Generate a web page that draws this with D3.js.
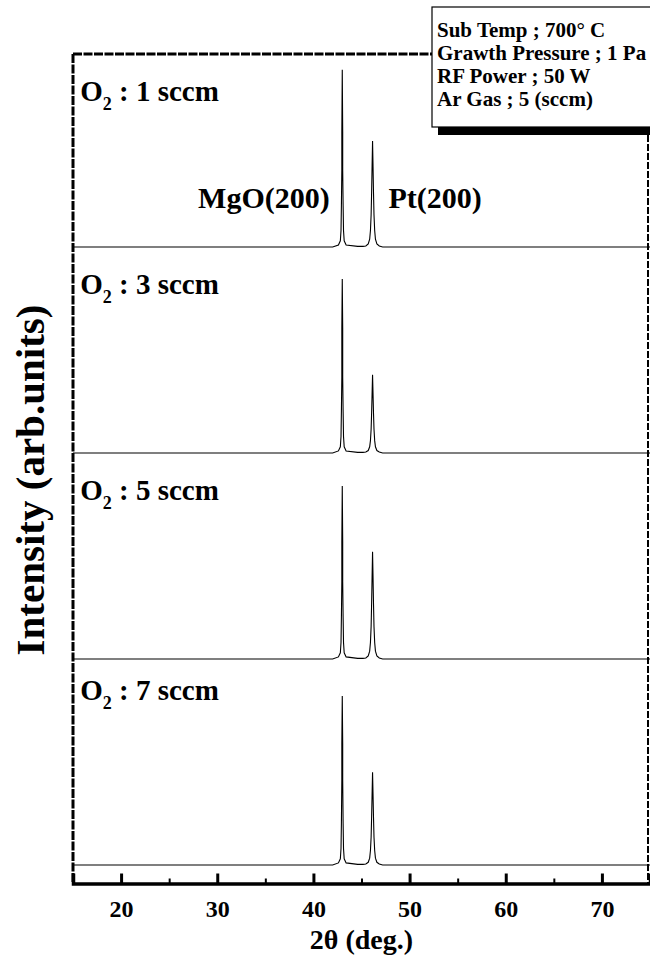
<!DOCTYPE html>
<head>
  <meta charset="utf-8">
  <script src="https://d3js.org/d3.v7.min.js"></script>
<style>
body { margin:0; background:#fff; }
text { font-family: "Liberation Serif", "Times New Roman", serif; font-weight: bold; fill: #000; }
.trace { fill: none; stroke: #000; stroke-width: 1.1px; }
</style>
</head>

<body>
<script>
// 2theta sampling points shared by all four scans
var twoTheta = [15, 42.0, 42.6, 42.8, 42.87, 42.91, 42.955, 42.955, 43.0, 43.045, 43.045, 43.09, 43.13, 43.2, 43.4,
                44.6, 45.15, 45.45, 45.7, 45.85, 45.93, 46.0, 46.05, 46.1, 46.15, 46.2, 46.25, 46.3, 46.37,
                46.45, 46.6, 46.85, 47.2, 75];

// intensities (arb. units)
var int1 = [0, 0, 10, 30, 80, 200, 374, 558, 860, 558, 374, 200, 80, 30, 10,
            3, 3, 5, 15, 38, 80, 155, 260, 390, 515, 390, 260, 155, 80,
            38, 15, 5, 0, 0];
var int3 = [0, 0, 10, 30, 80, 200, 369, 607, 845, 607, 369, 200, 80, 30, 10,
            3, 3, 5, 12, 30, 60, 115, 190, 285, 380, 285, 190, 115, 60,
            30, 12, 5, 0, 0];
var int5 = [0, 0, 10, 30, 80, 200, 375, 570, 840, 570, 375, 200, 80, 30, 10,
            3, 3, 5, 15, 38, 80, 157, 265, 395, 520, 395, 265, 157, 80,
            38, 15, 5, 0, 0];
var int7 = [0, 0, 10, 30, 80, 200, 413, 590, 820, 590, 413, 200, 80, 30, 10,
            3, 3, 5, 13, 33, 70, 135, 228, 340, 450, 340, 228, 135, 70,
            33, 13, 5, 0, 0];

var scans = [int1, int3, int5, int7];
var flowLabels = ["1", "3", "5", "7"];
var offsets = [3000, 2000, 1000, 0];
var labelLevel = [710, 772, 772, 801];

var xTicks = [20, 30, 40, 50, 60, 70];
var xMinor = [25, 35, 45, 55, 65];

var conditions = ["Sub Temp ; 700\u00B0 C", "Grawth Pressure ; 1 Pa", "RF Power ; 50 W", "Ar Gas ; 5 (sccm)"];

var W = 650, H = 956;
var plotL = 73, plotR = 650, plotT = 54, plotB = 883.5;

var svg = d3.select("body").append("svg")
    .attr("width", W)
    .attr("height", H);

var x = d3.scaleLinear().domain([15, 75]).range([plotL, plotR]);
var y = d3.scaleLinear().domain([-90, 3937]).range([plotB, plotT]);

// draw the scans, each shifted up by its offset
scans.forEach(function(vals, i) {
  var pts = twoTheta.map(function(t, j) { return [t, vals[j] + offsets[i]]; });
  svg.append("path")
      .datum(pts)
      .attr("class", "trace")
      .attr("d", d3.line().x(d => x(d[0])).y(d => y(d[1])));

  var lab = svg.append("text")
      .attr("x", x(15.75))
      .attr("y", y(offsets[i] + labelLevel[i]))
      .style("font-size", "29px");
  lab.append("tspan").text("O");
  lab.append("tspan").attr("dy", 9).style("font-size", "18px").text("2");
  lab.append("tspan").attr("dy", -9).text(" : " + flowLabels[i] + " sccm");
});

// peak labels in the top panel
svg.append("text")
    .attr("x", x(41.7)).attr("y", y(3190))
    .attr("text-anchor", "end")
    .style("font-size", "30px")
    .text("MgO(200)");
svg.append("text")
    .attr("x", x(47.8)).attr("y", y(3190))
    .style("font-size", "30px")
    .text("Pt(200)");

// frame
svg.append("line").attr("x1", plotL).attr("x2", plotR).attr("y1", plotT).attr("y2", plotT)
    .attr("stroke", "#000").attr("stroke-width", 3).attr("stroke-dasharray", "9,1.5");
svg.append("line").attr("x1", plotL).attr("x2", plotL).attr("y1", plotT).attr("y2", plotB)
    .attr("stroke", "#000").attr("stroke-width", 3).attr("stroke-dasharray", "9,1.5");
svg.append("line").attr("x1", plotR - 2).attr("x2", plotR - 2).attr("y1", plotT).attr("y2", plotB)
    .attr("stroke", "#000").attr("stroke-width", 2).attr("stroke-dasharray", "7,2");

// bottom axis, ticks pointing inward
var xAxis = svg.append("g")
    .attr("transform", "translate(0," + plotB + ")")
    .call(d3.axisBottom(x).tickValues(xTicks).tickSize(-10).tickPadding(16).tickFormat(d3.format("d")));
xAxis.select(".domain").attr("stroke-width", 3.5);
xAxis.selectAll(".tick line").attr("stroke-width", 3);
xAxis.selectAll(".tick text")
    .attr("font-size", null)
    .style("font-family", "Liberation Serif, serif")
    .style("font-weight", "bold")
    .style("font-size", "24px");

svg.append("g")
    .attr("transform", "translate(0," + plotB + ")")
    .call(d3.axisBottom(x).tickValues(xMinor).tickSize(-5).tickFormat(""))
  .call(g => g.select(".domain").remove())
  .selectAll(".tick line").attr("stroke-width", 2);

// axis titles
svg.append("text")
    .attr("x", x(45)).attr("y", 949)
    .attr("text-anchor", "middle")
    .style("font-size", "28px")
    .text("2\u03B8 (deg.)");

svg.append("text")
    .attr("transform", "translate(44," + 480 + ") rotate(-90)")
    .attr("text-anchor", "middle")
    .style("font-size", "41px")
    .text("Intensity (arb.units)");

// growth conditions box with drop shadow
svg.append("rect")
    .attr("x", 438).attr("y", 120).attr("width", 240).attr("height", 15)
    .attr("fill", "#000");
svg.append("rect")
    .attr("x", 432).attr("y", 7).attr("width", 240).attr("height", 120)
    .attr("fill", "#fff").attr("stroke", "#000").attr("stroke-width", 1.2);

svg.selectAll(".cond")
    .data(conditions)
  .enter().append("text")
    .attr("class", "cond")
    .attr("x", 437)
    .attr("y", (d, i) => 37 + i * 23)
    .style("font-size", "21px")
    .text(d => d);
</script>
</body>
